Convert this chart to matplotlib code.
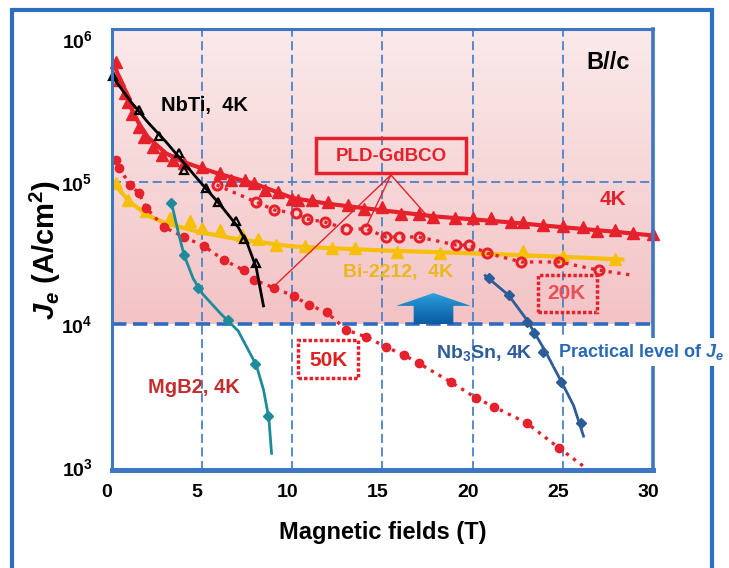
import numpy as np
import matplotlib.pyplot as plt
from matplotlib.patches import Rectangle, Polygon
from matplotlib.colors import LinearSegmentedColormap
from matplotlib.transforms import ScaledTranslation

plt.rcParams['font.family'] = ['Liberation Sans', 'DejaVu Sans']
plt.rcParams['font.weight'] = 'bold'
plt.rcParams['axes.labelweight'] = 'bold'
plt.rcParams['mathtext.fontset'] = 'custom'
plt.rcParams['mathtext.rm'] = 'Liberation Sans:bold'
plt.rcParams['mathtext.bf'] = 'Liberation Sans:bold'
plt.rcParams['mathtext.it'] = 'Liberation Sans:italic:bold'

# --- data (field in T, Je in A/cm2) ---
gd4_x = [0.2, 0.4, 0.7, 0.9, 1.1, 1.5, 1.8, 2.3, 2.8, 3.4, 4.0, 5.0, 6.0, 6.6, 7.4,
         7.9, 8.5, 9.2, 10.0, 10.3, 11.1, 12.0, 13.1, 14.0, 15.0, 16.0, 17.0, 17.8,
         19.0, 20.0, 21.0, 22.1, 22.8, 23.9, 25.0, 26.1, 26.9, 27.9, 28.9, 30.0]
gd4_y = [690e3, 520e3, 420e3, 360e3, 300e3, 240e3, 206e3, 175e3, 154e3, 142e3,
         135e3, 127e3, 115e3, 103e3, 103e3, 98e3, 88e3, 85e3, 76e3, 75e3,
         74e3, 72e3, 69e3, 64e3, 66e3, 59e3, 59e3, 57e3, 56e3, 56e3,
         56e3, 52e3, 52e3, 50e3, 49e3, 48e3, 45e3, 46e3, 44e3, 43e3]
gd4_fit_x = [0, 0.5, 1, 1.5, 2, 3, 4, 5, 6, 7, 8, 10, 12, 15, 18, 20, 22, 25, 28, 30]
gd4_fit_y = [7.2e5, 5.0e5, 3.4e5, 2.55e5, 2.05e5, 1.58e5, 1.37e5, 1.24e5, 1.13e5, 1.04e5,
             0.96e5, 0.77e5, 0.70e5, 0.63e5, 0.57e5, 0.545e5, 0.52e5, 0.48e5, 0.445e5, 0.42e5]

gd20_x = [5.8, 8.0, 9.0, 10.2, 10.8, 11.8, 13.0, 14.1, 15.2, 15.9, 17.0, 19.1, 19.8,
          20.8, 22.7, 24.8, 27.0]
gd20_y = [0.95e5, 0.72e5, 0.634e5, 0.60e5, 0.548e5, 0.522e5, 0.467e5, 0.467e5, 0.41e5,
          0.41e5, 0.41e5, 0.36e5, 0.36e5, 0.316e5, 0.274e5, 0.274e5, 0.24e5]
gd20_end = (28.8, 2.22e4)

gd50_x = [0.2, 0.4, 1.0, 1.5, 1.9, 2.9, 4.0, 5.1, 6.2, 7.3, 7.9, 9.0, 10.1, 10.9, 11.9,
          13.0, 14.1, 15.2, 16.2, 17.0, 18.8, 20.2, 21.2, 23.0, 24.8]
gd50_y = [1.42e5, 1.25e5, 0.95e5, 0.83e5, 0.655e5, 0.48e5, 0.41e5, 0.354e5, 0.283e5,
          0.24e5, 0.205e5, 0.18e5, 0.158e5, 0.137e5, 0.122e5, 0.915e4, 0.817e4, 0.695e4,
          0.61e4, 0.536e4, 0.394e4, 0.305e4, 0.264e4, 0.204e4, 0.136e4]
gd50_end = (26.4, 9.6e2)

nbti_x = [0.05, 1.5, 2.6, 3.7, 4.0, 5.2, 5.9, 6.9, 7.3, 8.0]
nbti_y = [5.5e5, 3.2e5, 2.1e5, 1.6e5, 1.2e5, 0.90e5, 0.72e5, 0.53e5, 0.40e5, 0.27e5]
nbti_fit_x = [0.1, 1, 2, 3, 4, 5, 6, 7, 7.5, 8, 8.4]
nbti_fit_y = [5.3e5, 3.7e5, 2.6e5, 1.9e5, 1.35e5, 0.96e5, 0.69e5, 0.48e5, 0.37e5, 0.25e5, 1.35e4]

bi_x = [0.2, 0.9, 1.9, 3.2, 4.3, 5.0, 6.0, 7.2, 8.1, 9.1, 10.7, 12.2, 13.5, 15.8, 18.2,
        22.8, 25.0, 27.9]
bi_y = [0.98e5, 0.745e5, 0.62e5, 0.557e5, 0.53e5, 0.474e5, 0.459e5, 0.424e5, 0.40e5,
        0.36e5, 0.354e5, 0.343e5, 0.343e5, 0.321e5, 0.316e5, 0.327e5, 0.301e5, 0.287e5]
bi_fit_x = [0, 0.5, 1, 2, 3, 5, 7, 10, 15, 20, 25, 28.3]
bi_fit_y = [1.0e5, 0.85e5, 0.72e5, 0.58e5, 0.51e5, 0.44e5, 0.395e5, 0.352e5, 0.33e5,
            0.315e5, 0.298e5, 0.285e5]

mgb2_x = [3.3, 4.0, 4.75, 6.45, 7.95, 8.65]
mgb2_y = [7.1e4, 3.06e4, 1.8e4, 1.07e4, 5.27e3, 2.28e3]
mgb2_fit_x = [3.3, 3.7, 4.0, 4.5, 5.0, 6.0, 7.0, 8.0, 8.4, 8.7, 8.85]
mgb2_fit_y = [7.1e4, 4.3e4, 3.06e4, 2.1e4, 1.65e4, 1.2e4, 9.0e3, 5.2e3, 3.5e3, 2.2e3, 1.25e3]

nb3sn_x = [20.9, 22.0, 23.0, 23.4, 23.9, 24.9, 26.0]
nb3sn_y = [2.11e4, 1.61e4, 1.04e4, 0.87e4, 0.64e4, 0.395e4, 0.204e4]
nb3sn_fit_x = [20.7, 22.0, 23.0, 24.0, 25.0, 25.6, 26.15]
nb3sn_fit_y = [2.2e4, 1.6e4, 1.08e4, 0.66e4, 0.38e4, 0.27e4, 1.65e3]

practical_level = 1e4
x_ticks = [0, 5, 10, 15, 20, 25, 30]
y_ticks = [1e3, 1e4, 1e5, 1e6]
y_tick_labels = [r'$\mathbf{10^{3}}$', r'$\mathbf{10^{4}}$', r'$\mathbf{10^{5}}$', r'$\mathbf{10^{6}}$']

red = '#e5222b'
gold = '#f6bf0a'
teal = '#1e8b9b'
navy = '#2d5d98'
gridblue = '#4a82cc'

fig = plt.figure(figsize=(7.29, 5.68), dpi=100)
ax = fig.add_axes([0.1536, 0.1725, 0.7421, 0.7764])
ax.set_yscale('log')
ylo, yhi = 2.98, 6.07

# pink band above the practical level
frac = (np.log10(practical_level) - ylo) / (yhi - ylo)
grad = np.linspace(0, 1, 256).reshape(-1, 1)
pink = LinearSegmentedColormap.from_list('pinkband', ['#f3c3c5', '#fbeaeb'])
ax.imshow(grad, cmap=pink, aspect='auto', origin='lower',
          extent=(0, 1, frac, 1), transform=ax.transAxes, zorder=0)

ax.set_xlim(0, 30)
ax.set_ylim(10**ylo, 10**yhi)

# grid
for xv in x_ticks[1:-1]:
    ax.axvline(xv, color=gridblue, lw=1.3, ls=(0, (5, 2.5)), zorder=1)
ax.axhline(1e5, color=gridblue, lw=1.3, ls=(0, (5, 2.5)), zorder=1)
ax.axhline(practical_level, color='#2f6cbd', lw=2.6, ls=(0, (4, 1.8)), zorder=1)

# arrow with gradient
arrow_xc, head_hw, shaft_hw = 17.83, 2.07, 1.1
head_base, head_tip = 1.35e4, 1.66e4
arrow_pts = [(arrow_xc - shaft_hw, practical_level), (arrow_xc - shaft_hw, head_base),
             (arrow_xc - head_hw, head_base), (arrow_xc, head_tip),
             (arrow_xc + head_hw, head_base), (arrow_xc + shaft_hw, head_base),
             (arrow_xc + shaft_hw, practical_level)]
arrow = Polygon(arrow_pts, closed=True, facecolor='none', edgecolor='none', zorder=2)
ax.add_patch(arrow)
blues = LinearSegmentedColormap.from_list('arr', ['#0c5ca4', '#2da6e2'])
im = ax.imshow(grad, cmap=blues, aspect='auto', origin='lower',
               extent=(arrow_xc - head_hw, arrow_xc + head_hw, practical_level, head_tip),
               zorder=2)
im.set_clip_path(arrow)
ax.set_xlim(0, 30)
ax.set_ylim(10**ylo, 10**yhi)

# curves
ax.plot(gd4_fit_x, gd4_fit_y, color=red, lw=3, zorder=4)
ax.plot(gd4_x, gd4_y, ls='none', marker='^', ms=9, color=red, zorder=5, clip_on=False)

ax.plot(gd20_x + [gd20_end[0]], gd20_y + [gd20_end[1]], color=red, lw=2.4, ls=':', zorder=4)
ax.plot(gd20_x, gd20_y, ls='none', marker='o', ms=6.5, mfc='none', mec=red, mew=2.2, zorder=5)

ax.plot(gd50_x + [gd50_end[0]], gd50_y + [gd50_end[1]], color=red, lw=2.4, ls=':', zorder=4)
ax.plot(gd50_x, gd50_y, ls='none', marker='o', ms=6, color=red, zorder=5)

ax.plot(bi_fit_x, bi_fit_y, color=gold, lw=3, zorder=3)
ax.plot(bi_x, bi_y, ls='none', marker='^', ms=9, color=gold, zorder=3)

ax.plot(nbti_fit_x, nbti_fit_y, color='black', lw=2, zorder=6)
ax.plot(nbti_x, nbti_y, ls='none', marker='^', ms=6, mfc='none', mec='black', mew=1.6,
        zorder=6, clip_on=False)

ax.plot(mgb2_fit_x, mgb2_fit_y, color=teal, lw=2, zorder=6)
ax.plot(mgb2_x, mgb2_y, ls='none', marker='D', ms=5.5, color=teal, zorder=6)

ax.plot(nb3sn_fit_x, nb3sn_fit_y, color=navy, lw=2, zorder=6)
ax.plot(nb3sn_x, nb3sn_y, ls='none', marker='D', ms=5.5, color=navy, zorder=6)

# annotations
ax.text(5.14, 3.44e5, 'NbTi,  4K', fontsize=14.5, ha='center', va='center', color='black', zorder=7)
ax.text(27.5, 6.8e5, 'B//c', fontsize=17, ha='center', va='center', color='black')
ax.text(27.8, 7.45e4, '4K', fontsize=15, ha='center', va='center', color=red)
ax.text(15.86, 2.33e4, 'Bi-2212,  4K', fontsize=14, ha='center', va='center', color='#ebb71e')
ax.text(4.53, 3.64e3, 'MgB2, 4K', fontsize=14.5, ha='center', va='center', color='#c42d2d')
ax.text(20.66, 6.3e3, r'Nb$_3$Sn, 4K', fontsize=14, ha='center', va='center', color=navy)

ax.add_patch(Rectangle((11.33, 1.15e5), 8.28, 0.87e5, fill=False, ec=red, lw=2.5, zorder=6))
ax.text(15.47, 1.514e5, 'PLD-GdBCO', fontsize=13.5, ha='center', va='center', color=red, zorder=7)
for tx, ty in [(17.68, 5.4e4), (14.09, 4.82e4), (8.95, 1.83e4)]:
    ax.plot([15.47, tx], [1.115e5, ty], color=red, lw=1, zorder=5)

ax.add_patch(Rectangle((23.6, 1.22e4), 3.3, 1.0e4, fill=False, ec=red, lw=2.5,
                       ls=(0, (1, 0.6)), zorder=6))
ax.text(25.2, 1.66e4, '20K', fontsize=15, ha='center', va='center', color='#e65058', zorder=7)
ax.add_patch(Rectangle((10.33, 4.2e3), 3.32, 3.58e3, fill=False, ec=red, lw=2.5,
                       ls=(0, (1, 0.6)), zorder=6))
ax.text(11.99, 5.62e3, '50K', fontsize=15, ha='center', va='center', color='#e02020', zorder=7)

fig.text(24.75, 6.4e3, r'Practical level of $J_e$', fontsize=13, ha='left', va='center',
         color='#2868b4', transform=ax.transData, zorder=10,
         bbox=dict(facecolor='white', edgecolor='none', pad=3))

# axes styling
ax.set_xticks(x_ticks)
ax.set_yticks(y_ticks)
ax.set_yticklabels(y_tick_labels)
ax.yaxis.set_minor_locator(plt.NullLocator())
ax.tick_params(axis='x', length=0, pad=10, labelsize=14)
ax.tick_params(axis='y', length=0, pad=14, labelsize=14)
for lab in ax.get_xticklabels():
    lab.set_fontweight('bold')
shift = ScaledTranslation(-5 / 100, 0, fig.dpi_scale_trans)
for lab in ax.get_xticklabels():
    lab.set_transform(lab.get_transform() + shift)

for side, lw in [('left', 2.2), ('top', 2.2), ('right', 2.6), ('bottom', 3.6)]:
    ax.spines[side].set_color('#3d77c4')
    ax.spines[side].set_linewidth(lw)
    ax.spines[side].set_zorder(8)

ax.set_xlabel('Magnetic fields (T)', fontsize=17, fontweight='bold')
ax.xaxis.set_label_coords(0.5, -0.115)
ax.set_ylabel(r'$J_e$ (A/cm$^2$)', fontsize=21, fontweight='bold')
ax.yaxis.set_label_coords(-0.09, 0.5)

# outer frame
fig.patches.append(Rectangle((12 / 729, -0.05), 700 / 729, 1.05 - 10 / 568, fill=False,
                             ec='#2a6fc0', lw=3, transform=fig.transFigure, zorder=1))

fig.savefig('out.png', dpi=100)
